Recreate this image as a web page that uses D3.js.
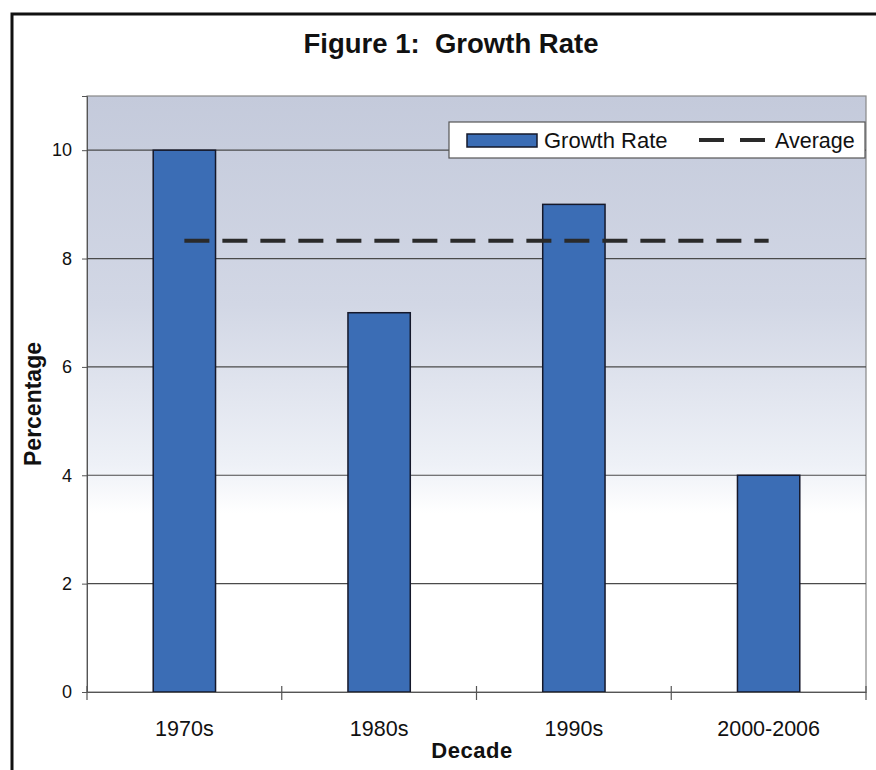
<!DOCTYPE html>
<html><head><meta charset="utf-8">
<script src="https://cdn.jsdelivr.net/npm/d3@7"></script>
<style>body{margin:0;background:#fff;}svg{display:block;}</style>
</head><body>
<svg id="c" width="876" height="770"></svg>
<script>
const categories = ["1970s", "1980s", "1990s", "2000-2006"];
const growthRate = [10, 7, 9, 4];
const average = [8.33, 8.33, 8.33, 8.33];
const yTicks = [0, 2, 4, 6, 8, 10];

const svg = d3.select("#c");
const F = "'Liberation Sans', Arial, sans-serif";
const m = {left: 87, top: 96, right: 866, bottom: 692};

// outer frame
svg.append("rect").attr("x", 12).attr("y", 14).attr("width", 900).attr("height", 800)
  .attr("fill", "#fff").attr("stroke", "#111").attr("stroke-width", 3);

const defs = svg.append("defs");
const g = defs.append("linearGradient").attr("id", "bg").attr("x1", 0).attr("y1", 0).attr("x2", 0).attr("y2", 1);
g.append("stop").attr("offset", "0%").attr("stop-color", "#c4cadb");
g.append("stop").attr("offset", "35%").attr("stop-color", "#d2d7e5");
g.append("stop").attr("offset", "62%").attr("stop-color", "#eef1f7");
g.append("stop").attr("offset", "70%").attr("stop-color", "#ffffff");
g.append("stop").attr("offset", "100%").attr("stop-color", "#ffffff");

const x = d3.scaleBand().domain(categories).range([m.left, m.right]).paddingInner(0.68).paddingOuter(0.34);
const y = d3.scaleLinear().domain([0, 11]).range([m.bottom, m.top]);

svg.append("rect").attr("x", m.left).attr("y", m.top).attr("width", m.right - m.left).attr("height", m.bottom - m.top)
  .attr("fill", "url(#bg)").attr("stroke", "#888").attr("stroke-width", 1.2);

// gridlines + y axis
const ya = d3.axisLeft(y).tickValues(yTicks).tickSize(5).tickPadding(10).tickFormat(d3.format("d"));
const yG = svg.append("g").attr("transform", `translate(${m.left},0)`).call(ya);
yG.select(".domain").attr("stroke", "#555");
yG.selectAll(".tick line").attr("stroke", "#555");
yG.selectAll("text").attr("font-family", F).attr("font-size", 18).attr("fill", "#111");

svg.append("g").selectAll("line").data(yTicks.filter(d => d > 0)).join("line")
  .attr("x1", m.left).attr("x2", m.right).attr("y1", d => y(d)).attr("y2", d => y(d))
  .attr("stroke", "#4a4a4a").attr("stroke-width", 1.2);

// bars
svg.append("g").selectAll("rect").data(growthRate).join("rect")
  .attr("x", (d, i) => x(categories[i])).attr("width", x.bandwidth())
  .attr("y", d => y(d)).attr("height", d => y(0) - y(d))
  .attr("fill", "#3b6db5").attr("stroke", "#15182a").attr("stroke-width", 1.5);

// x axis
const xa = d3.axisBottom(x).tickSize(0).tickPadding(29);
const xG = svg.append("g").attr("transform", `translate(0,${m.bottom})`).call(xa);
xG.select(".domain").attr("stroke", "#555").attr("stroke-width", 1.2);
xG.selectAll("text").attr("font-family", F).attr("font-size", 21.5).attr("fill", "#111");
const bounds = categories.map(c => x(c) - x.step() * x.paddingInner() / 2).concat([m.right]);
bounds[0] = m.left;
svg.append("g").selectAll("line").data(bounds).join("line")
  .attr("x1", d => d).attr("x2", d => d).attr("y1", m.bottom - 6).attr("y2", m.bottom + 8)
  .attr("stroke", "#555").attr("stroke-width", 1.2);

// average line
const line = d3.line().x((d, i) => x(categories[i]) + x.bandwidth() / 2).y(d => y(d));
svg.append("path").datum(average).attr("d", line).attr("fill", "none")
  .attr("stroke", "#2a2a2a").attr("stroke-width", 4).attr("stroke-dasharray", "25,13");

// title and axis titles
svg.append("text").attr("x", 451).attr("y", 53).attr("text-anchor", "middle")
  .attr("font-family", F).attr("font-weight", "bold").attr("font-size", 27.5).attr("fill", "#111")
  .style("white-space", "pre").text("Figure 1:  Growth Rate");
svg.append("text").attr("transform", "translate(41,404) rotate(-90)").attr("text-anchor", "middle")
  .attr("font-family", F).attr("font-weight", "bold").attr("font-size", 23).attr("fill", "#111").text("Percentage");
svg.append("text").attr("x", 472).attr("y", 758).attr("text-anchor", "middle")
  .attr("font-family", F).attr("font-weight", "bold").attr("font-size", 22).attr("letter-spacing", 0.5).attr("fill", "#111").text("Decade");

// legend
const lg = svg.append("g");
lg.append("rect").attr("x", 449).attr("y", 122).attr("width", 416).attr("height", 36)
  .attr("fill", "#fff").attr("stroke", "#555").attr("stroke-width", 1.2);
lg.append("rect").attr("x", 467).attr("y", 134).attr("width", 70).attr("height", 13)
  .attr("fill", "#3b6db5").attr("stroke", "#15182a").attr("stroke-width", 1.5);
lg.append("text").attr("x", 544).attr("y", 148).attr("font-family", F).attr("font-size", 22).attr("fill", "#111").text("Growth Rate");
lg.append("line").attr("x1", 699).attr("x2", 765).attr("y1", 140).attr("y2", 140)
  .attr("stroke", "#2a2a2a").attr("stroke-width", 4).attr("stroke-dasharray", "25,16");
lg.append("text").attr("x", 775).attr("y", 148).attr("font-family", F).attr("font-size", 21.5).attr("fill", "#111").text("Average");
</script>
</body></html>
